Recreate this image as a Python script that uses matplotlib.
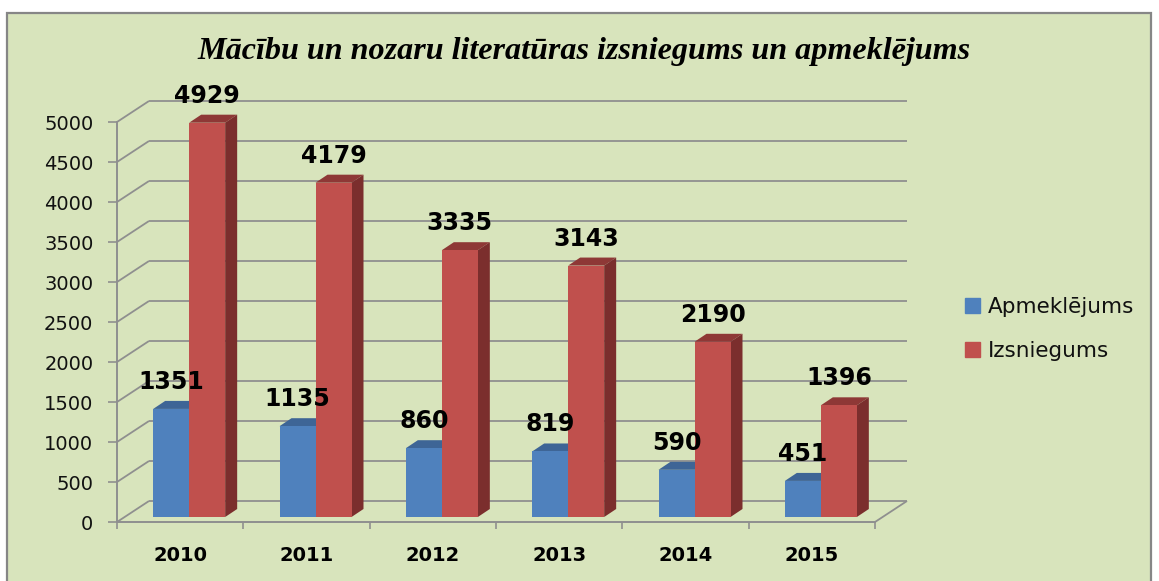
import matplotlib
matplotlib.use("Agg")
import matplotlib.pyplot as plt
from matplotlib.patches import Polygon, Patch, Rectangle

years = ["2010", "2011", "2012", "2013", "2014", "2015"]
apmeklejums = [1351, 1135, 860, 819, 590, 451]
izsniegums = [4929, 4179, 3335, 3143, 2190, 1396]
y_ticks = list(range(0, 5001, 500))
title = "Mācību un nozaru literatūras izsniegums un apmeklējums"

W, H = 1159, 581
AX_L, AX_R, AX_T, AX_B = 117, 875, 122, 522
BG, EDGE, GRID = "#D8E4BC", "#868686", "#8F8F8F"
BLUE, BLUE_TOP, BLUE_SIDE = "#4F81BD", "#3E6596", "#385D8A"
RED, RED_TOP, RED_SIDE = "#C0504D", "#8E3836", "#7B2E2D"

fig = plt.figure(figsize=(W / 100, H / 100), dpi=100, facecolor="white")
fig.patches.append(Rectangle((7 / W, -0.01), (1151 - 7) / W, 1.01 - 13 / H,
                             transform=fig.transFigure, facecolor=BG,
                             edgecolor=EDGE, linewidth=1.6, zorder=-5))
ax = fig.add_axes([AX_L / W, 1 - AX_B / H, (AX_R - AX_L) / W, (AX_B - AX_T) / H])
ax.patch.set_alpha(0)
ax.set_xlim(0, len(years))
ax.set_ylim(0, 5000)

# pixel-to-data conversion for the fake 3D projection
ux = len(years) / (AX_R - AX_L)
uy = 5000 / (AX_B - AX_T)
dx, dy = 32 * ux, 21 * uy          # wall depth
bar_w = 36 * ux
base_x, base_y = 9 * ux, 5 * uy    # bar front offset inside the floor
bdx, bdy = 12 * ux, 8 * uy         # bar depth

line = dict(color=GRID, lw=1.3, clip_on=False, solid_capstyle="butt")
for v in y_ticks:
    ax.plot([0, dx], [v, v + dy], zorder=1, **line)
    ax.plot([dx, len(years) + dx], [v + dy, v + dy], zorder=1, **line)
ax.plot([len(years), len(years) + dx], [0, dy], zorder=1, **line)


def bar3d(cx, left, value, front, top, side):
    x0 = cx + left
    x1 = x0 + bar_w
    b = base_y
    t = base_y + value
    ax.bar(x0, value, width=bar_w, bottom=b, align="edge", color=front,
           linewidth=0, clip_on=False, zorder=3)
    ax.add_patch(Polygon([(x0, t), (x1, t), (x1 + bdx, t + bdy), (x0 + bdx, t + bdy)],
                         closed=True, facecolor=top, edgecolor="none",
                         clip_on=False, zorder=2.8))
    ax.add_patch(Polygon([(x1, b), (x1 + bdx, b + bdy), (x1 + bdx, t + bdy), (x1, t)],
                         closed=True, facecolor=side, edgecolor="none",
                         clip_on=False, zorder=2.8))
    return x0 + bar_w / 2, t


for i, (a, r) in enumerate(zip(apmeklejums, izsniegums)):
    cx = i + 0.5 + base_x
    pa = bar3d(cx, -bar_w, a, BLUE, BLUE_TOP, BLUE_SIDE)
    pr = bar3d(cx, 0, r, RED, RED_TOP, RED_SIDE)
    for (px, py), v in ((pa, a), (pr, r)):
        ax.annotate(str(v), (px, py), xytext=(0, 27 * 0.72), textcoords="offset points",
                    ha="center", va="center", fontsize=17, fontweight="bold",
                    family="DejaVu Sans", color="black", zorder=5,
                    annotation_clip=False)

for s in ("top", "right"):
    ax.spines[s].set_visible(False)
for s in ("left", "bottom"):
    ax.spines[s].set_color(GRID)
    ax.spines[s].set_linewidth(1.4)

ax.set_yticks(y_ticks)
ax.set_yticklabels([str(v) for v in y_ticks], fontsize=14, family="DejaVu Sans", color="#111111")
ax.tick_params(axis="y", length=6.5, width=1.2, color=GRID, pad=10.5)
ax.set_xticks(range(len(years) + 1))
ax.set_xticklabels([])
ax.tick_params(axis="x", which="major", length=5, width=1.2, color=GRID)
ax.set_xticks([i + 0.5 for i in range(len(years))], minor=True)
ax.set_xticklabels(years, minor=True, fontsize=14, fontweight="bold",
                   family="DejaVu Sans", color="black")
ax.tick_params(axis="x", which="minor", length=0, pad=17)

fig.text(584 / W, 1 - 52 / H, title, ha="center", va="center", fontsize=23.1,
         family="Liberation Serif", style="italic", fontweight="bold", color="black")

fig.legend(handles=[Patch(color=BLUE, label="Apmeklējums"), Patch(color=RED, label="Izsniegums")],
           loc="upper left", bbox_to_anchor=(946 / W, 1 - 278 / H), frameon=False,
           prop={"family": "DejaVu Sans", "size": 15.5}, handlelength=0.7, handleheight=0.7,
           handletextpad=0.33, labelspacing=1.08, labelcolor="#111111")

fig.savefig("out.png", dpi=100, facecolor="white")
